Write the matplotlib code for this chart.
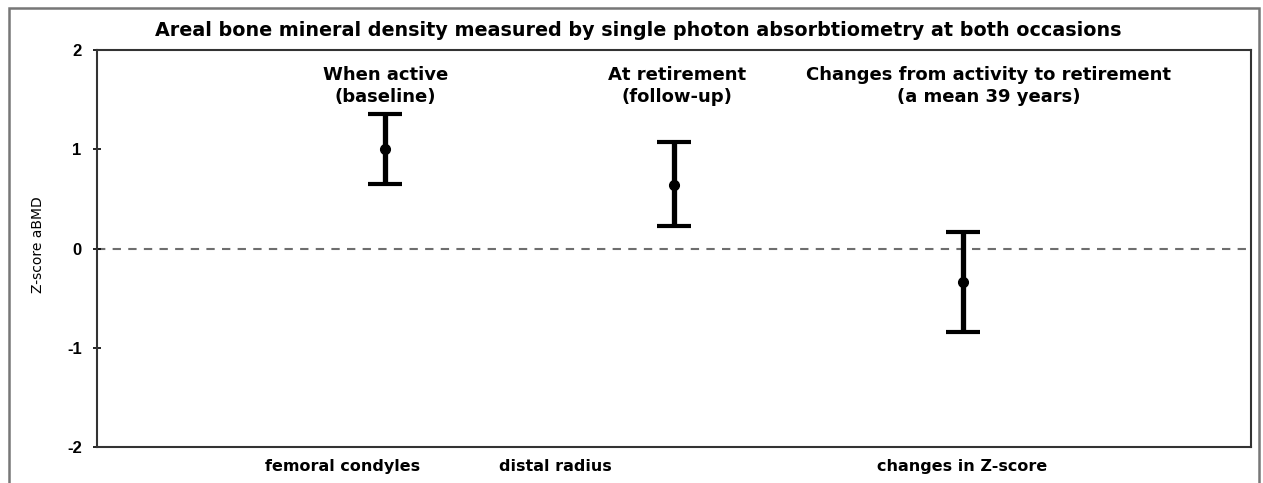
import matplotlib
matplotlib.use('Agg')
import matplotlib.pyplot as plt
from matplotlib.patches import Rectangle

plt.rcParams['font.family'] = ['Liberation Sans', 'DejaVu Sans']

sites = ['femoral condyles', 'distal radius', 'changes in Z-score']
means = [1.0, 0.64, -0.34]
err_low = [0.35, 0.41, 0.50]
err_high = [0.36, 0.43, 0.51]
headers = ['When active\n(baseline)', 'At retirement\n(follow-up)',
           'Changes from activity to retirement\n(a mean 39 years)']
title = 'Areal bone mineral density measured by single photon absorbtiometry at both occasions'
yticks = [-2, -1, 0, 1, 2]

fig = plt.figure(figsize=(12.63, 4.83), dpi=100)
ax = fig.add_axes([0.0768, 0.0745, 0.9137, 0.822])

xpos = [1, 2, 3]
ax.errorbar(xpos, means, yerr=[err_low, err_high], fmt='o', color='black',
            ecolor='black', elinewidth=3.8, capsize=12, capthick=3.0,
            markersize=7, zorder=3)
ax.axhline(0, color='#6e6e6e', lw=1.5, ls=(0, (4, 3.5)), zorder=1)

ax.set_xlim(0, 4)
ax.set_ylim(-2, 2)
ax.set_yticks(yticks)
ax.set_yticklabels([str(v) for v in yticks], fontsize=12, fontweight='bold')
ax.set_xticks([])
ax.tick_params(axis='y', direction='inout', length=6, width=1.2, pad=8)
for s in ax.spines.values():
    s.set_linewidth(1.5)
    s.set_color('#333333')

ax.set_ylabel('Z-score aBMD', fontsize=10, family='DejaVu Sans')
ax.yaxis.set_label_coords(-0.045, 0.51)

# category labels below the axis
label_x = [0.85, 1.59, 3.0]
for x, s in zip(label_x, sites):
    ax.text(x, -2.2, s, ha='center', va='center', fontsize=11.5,
            fontweight='bold', family='DejaVu Sans')

# headers above each estimate
header_x = [1.0, 2.01, 3.09]
for x, h in zip(header_x, headers):
    ax.text(x, 1.64, h, ha='center', va='center', fontsize=13,
            fontweight='bold', linespacing=1.3, family='DejaVu Sans')

fig.text(0.505, 0.937, title, ha='center', va='center', fontsize=13.8,
         fontweight='bold', family='DejaVu Sans')

# outer frame
fig.patches.append(Rectangle((0.007, -0.05), 0.99, 1.034, transform=fig.transFigure,
                             fill=False, edgecolor='#777777', lw=1.8))

fig.savefig('out.png', dpi=100)
